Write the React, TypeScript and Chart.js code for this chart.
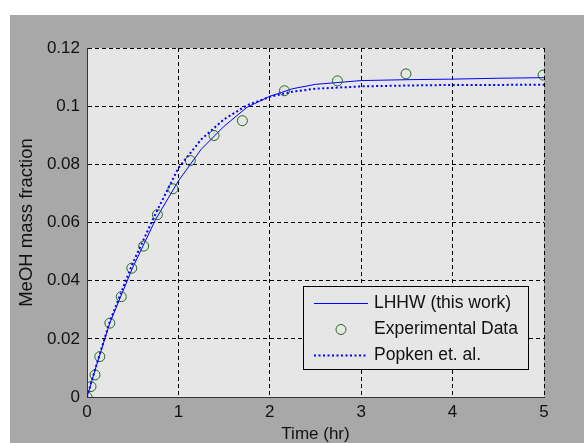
import React, { useEffect, useRef } from "react";
import { Chart, registerables } from "chart.js";

Chart.register(...registerables);

// Model curves (time in hr)
const modelTime = [0, 0.1, 0.25, 0.5, 0.75, 1, 1.25, 1.5, 1.75, 2, 2.25, 2.5, 3, 3.5, 4, 4.5, 5];
const lhhwValues = [0, 0.0105, 0.0255, 0.0445, 0.061, 0.0743, 0.0852, 0.0931, 0.0996, 0.1034, 0.106, 0.1075, 0.1088, 0.1091, 0.1093, 0.1096, 0.1098];
const popkenValues = [0, 0.0107, 0.026, 0.046, 0.063, 0.0787, 0.0886, 0.0955, 0.1003, 0.1032, 0.105, 0.106, 0.1068, 0.1071, 0.1073, 0.1073, 0.1074];

// Experimental data
const expTime = [0, 0.044, 0.088, 0.14, 0.25, 0.375, 0.49, 0.62, 0.77, 0.94, 1.13, 1.39, 1.7, 2.16, 2.74, 3.49, 4.99];
const expValues = [0, 0.0036, 0.0076, 0.0139, 0.0254, 0.0345, 0.0443, 0.0519, 0.0627, 0.0716, 0.0813, 0.0899, 0.095, 0.1053, 0.1087, 0.1111, 0.1107];

const xTickLabels = ["0", "1", "2", "3", "4", "5"];
const yTickLabels = ["0", "0.02", "0.04", "0.06", "0.08", "0.1", "0.12"];

const seriesLabels = ["LHHW (this work)", "Experimental Data", "Popken et. al."];

const FONT = "'Liberation Sans', Arial, Helvetica, sans-serif";
const FIG_BG = "#a8a8a8";
const AX_BG = "#e6e6e6";
const BLUE = "#0000ff";
const GREEN = "#1e6a1e";

const backgroundPlugin = {
  id: "figBackground",
  beforeDraw(chart: any) {
    const { ctx, width, height, chartArea } = chart;
    ctx.save();
    ctx.fillStyle = "#ffffff";
    ctx.fillRect(0, 0, width, height);
    ctx.fillStyle = FIG_BG;
    ctx.fillRect(10, 15, width - 10, height - 15);
    ctx.fillStyle = AX_BG;
    ctx.fillRect(chartArea.left, chartArea.top, chartArea.right - chartArea.left, chartArea.bottom - chartArea.top);
    ctx.restore();
  },
};

const legendPlugin = {
  id: "matlabLegend",
  afterDraw(chart: any) {
    const { ctx } = chart;
    const bx = 303.5, by = 286.5, bw = 225, bh = 83;
    ctx.save();
    ctx.fillStyle = AX_BG;
    ctx.fillRect(bx, by, bw, bh);
    ctx.strokeStyle = "#000";
    ctx.lineWidth = 1;
    ctx.setLineDash([]);
    ctx.strokeRect(bx, by, bw, bh);
    const rows = [303.5, 329.5, 355.5];
    const x1 = 314, x2 = 368;
    chart.data.datasets.forEach((ds: any, i: number) => {
      const y = rows[i];
      if (ds.showLine) {
        ctx.beginPath();
        ctx.strokeStyle = ds.borderColor;
        ctx.lineWidth = ds.borderWidth;
        ctx.setLineDash(ds.borderDash || []);
        ctx.moveTo(x1, y);
        ctx.lineTo(x2, y);
        ctx.stroke();
      } else {
        ctx.beginPath();
        ctx.setLineDash([]);
        ctx.strokeStyle = ds.pointBorderColor;
        ctx.lineWidth = 1;
        ctx.arc((x1 + x2) / 2, y, ds.pointRadius, 0, Math.PI * 2);
        ctx.stroke();
      }
      ctx.setLineDash([]);
      ctx.fillStyle = "#111";
      ctx.font = `17.5px ${FONT}`;
      ctx.textBaseline = "middle";
      ctx.textAlign = "left";
      ctx.fillText(ds.label, 374, y);
    });
    ctx.restore();
  },
};

export default function App() {
  const canvasRef = useRef<HTMLCanvasElement | null>(null);

  useEffect(() => {
    const canvas = canvasRef.current;
    if (!canvas) return;
    const chart = new Chart(canvas, {
      type: "scatter",
      data: {
        datasets: [
          {
            label: seriesLabels[0],
            data: modelTime.map((t, i) => ({ x: t, y: lhhwValues[i] })),
            showLine: true,
            borderColor: BLUE,
            borderWidth: 1,
            pointRadius: 0,
            tension: 0,
            order: 3,
          },
          {
            label: seriesLabels[1],
            data: expTime.map((t, i) => ({ x: t, y: expValues[i] })),
            showLine: false,
            pointStyle: "circle",
            pointRadius: 5,
            pointBorderWidth: 1,
            pointBorderColor: GREEN,
            pointBackgroundColor: "rgba(0,0,0,0)",
            order: 2,
          },
          {
            label: seriesLabels[2],
            data: modelTime.map((t, i) => ({ x: t, y: popkenValues[i] })),
            showLine: true,
            borderColor: BLUE,
            borderWidth: 2,
            borderDash: [2, 2.5],
            pointRadius: 0,
            tension: 0,
            order: 1,
          },
        ],
      },
      options: {
        responsive: false,
        animation: false,
        devicePixelRatio: 1,
        layout: { padding: { top: 48, right: 40, left: 0, bottom: 0 } },
        plugins: {
          legend: { display: false },
          tooltip: { enabled: false },
        },
        scales: {
          x: {
            type: "linear",
            min: 0,
            max: 5,
            afterFit: (s: any) => {
              s.height = 46;
            },
            ticks: {
              stepSize: 1,
              padding: 5,
              color: "#111",
              font: { family: FONT, size: 17 },
              callback: (_v: any, i: number) => xTickLabels[i],
              maxRotation: 0,
            },
            grid: { color: "#000", lineWidth: 1, drawTicks: false },
            border: { display: true, color: "#333", width: 1, dash: [4, 3] },
            title: {
              display: true,
              text: "Time (hr)",
              color: "#111",
              font: { family: FONT, size: 17, lineHeight: 1 },
              padding: { top: 0, bottom: 0.5 },
            },
          },
          y: {
            type: "linear",
            min: 0,
            max: 0.12,
            afterFit: (s: any) => {
              s.width = 87;
            },
            ticks: {
              stepSize: 0.02,
              padding: 7,
              color: "#111",
              font: { family: FONT, size: 17 },
              callback: (_v: any, i: number) => yTickLabels[i],
            },
            grid: { color: "#000", lineWidth: 1, drawTicks: false },
            border: { display: true, color: "#333", width: 1, dash: [4, 3] },
            title: {
              display: true,
              text: "MeOH mass fraction",
              color: "#111",
              font: { family: FONT, size: 18.5, lineHeight: 1 },
              padding: { top: 17.75, bottom: 0 },
            },
          },
        },
      },
      plugins: [backgroundPlugin, legendPlugin],
    } as any);
    return () => chart.destroy();
  }, []);

  return (
    <div style={{ position: "fixed", left: 0, top: 0, width: 584, height: 443 }}>
      <canvas ref={canvasRef} width={584} height={443} style={{ display: "block" }} />
    </div>
  );
}
